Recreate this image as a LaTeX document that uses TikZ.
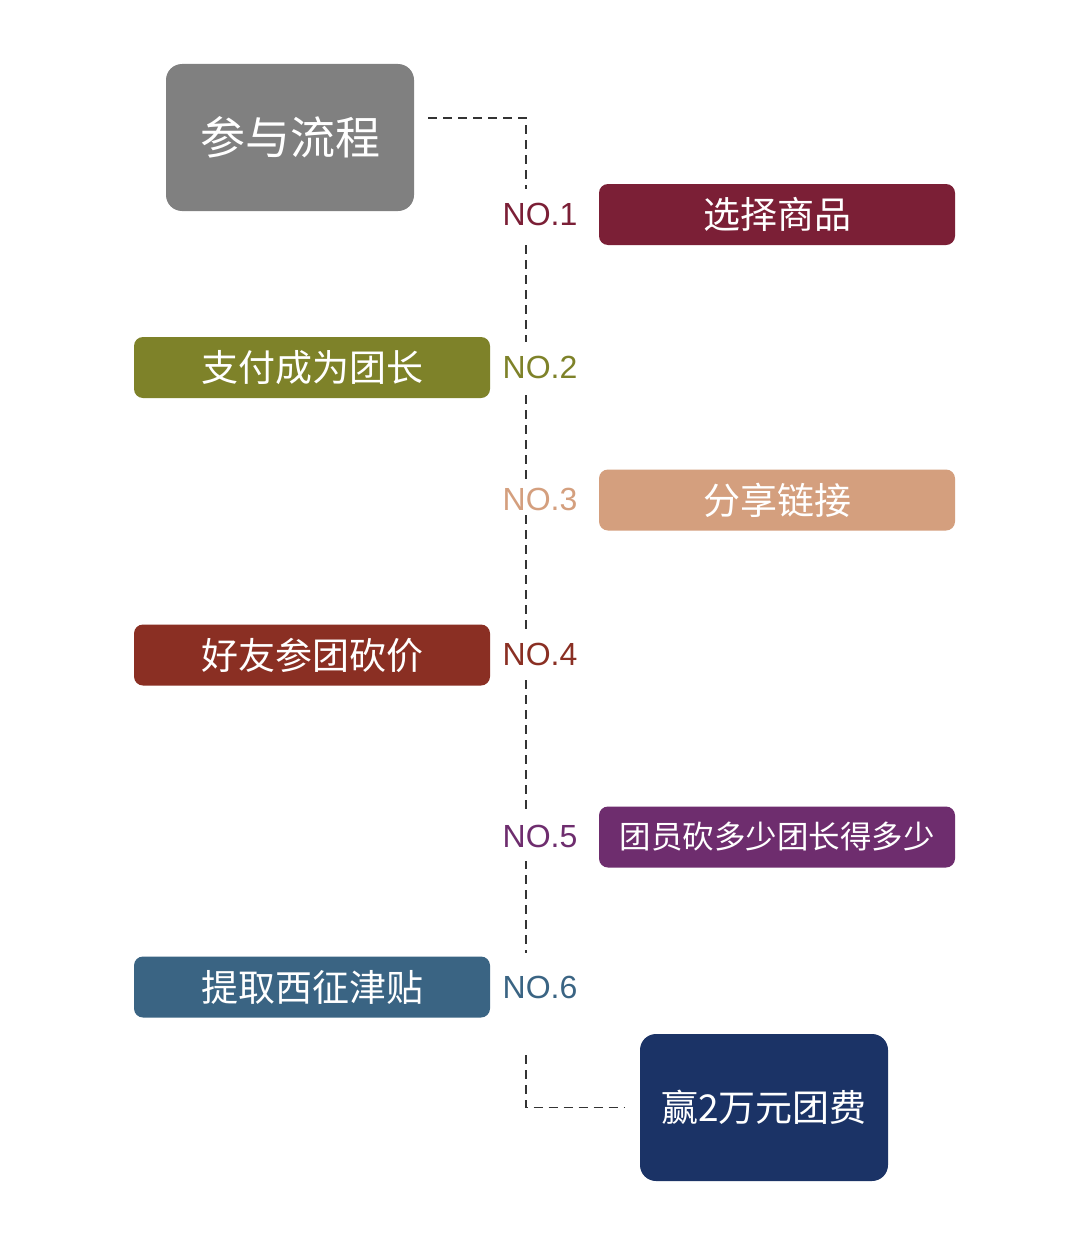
\documentclass[tikz,border=0pt]{standalone}
\usepackage{fontspec}
\newfontfamily\cjk{Noto Sans CJK SC}
\newfontfamily\lab{Liberation Sans}
\definecolor{cgray}{HTML}{808080}
\definecolor{cmaroon}{HTML}{7B1F36}
\definecolor{colive}{HTML}{7E8229}
\definecolor{cpeach}{HTML}{D49F7E}
\definecolor{crust}{HTML}{8A2F23}
\definecolor{cpurple}{HTML}{6E2D6E}
\definecolor{csteel}{HTML}{3A6483}
\definecolor{cnavy}{HTML}{1B3366}
\definecolor{cline}{HTML}{333333}
\tikzset{
  bigbox/.style={rounded corners=16pt, minimum width=248pt, minimum height=147pt, inner sep=0pt, text=white, font=\cjk\fontsize{45}{50}\selectfont},
  stepbox/.style={rounded corners=9pt, minimum width=356pt, minimum height=61pt, inner sep=0pt, text=white, font=\cjk\fontsize{37}{40}\selectfont},
  nolabel/.style={fill=white, inner xsep=2pt, inner ysep=14pt, font=\lab\fontsize{32}{34}\selectfont},
  conn/.style={draw=cline, line width=1.6pt, dash pattern=on 9pt off 6pt}
}
\begin{document}
\begin{tikzpicture}[x=1pt,y=-1pt]
\useasboundingbox[fill=white] (0,0) rectangle (1080,1239);
\node[bigbox, fill=cgray] (title) at (290,137.5) {参与流程};
\node[bigbox, fill=cnavy, font=\cjk\fontsize{37}{40}\selectfont] (prize) at (764,1107.5) {赢2万元团费};
\coordinate (c1) at (526,118);
\coordinate (c2) at (526,1107.5);
\draw[conn, shorten <=14pt, shorten >=15pt] (title.east |- c1) -- (c1) -- (c2) -- (prize.west |- c2);
\node[stepbox, fill=cmaroon] (s1) at (777,214.5) {选择商品};
\node[stepbox, fill=colive] (s2) at (312,367.5) {支付成为团长};
\node[stepbox, fill=cpeach] (s3) at (777,500) {分享链接};
\node[stepbox, fill=crust] (s4) at (312,655) {好友参团砍价};
\node[stepbox, fill=cpurple, font=\cjk\fontsize{31.5}{34}\selectfont] (s5) at (777,837) {团员砍多少团长得多少};
\node[stepbox, fill=csteel] (s6) at (312,987) {提取西征津贴};
\node[nolabel, text=cmaroon] (n1) at (540,214) {NO.1};
\node[nolabel, text=colive] (n2) at (540,367) {NO.2};
\node[nolabel, text=cpeach, inner ysep=3pt] (n3) at (540,499) {NO.3};
\node[nolabel, text=crust] (n4) at (540,654) {NO.4};
\node[nolabel, text=cpurple] (n5) at (540,836) {NO.5};
\node[nolabel, text=csteel, inner ysep=0pt, text height=46pt, text depth=50pt, anchor=base] (n6) at (540,998.5) {NO.6};
\end{tikzpicture}
\end{document}
